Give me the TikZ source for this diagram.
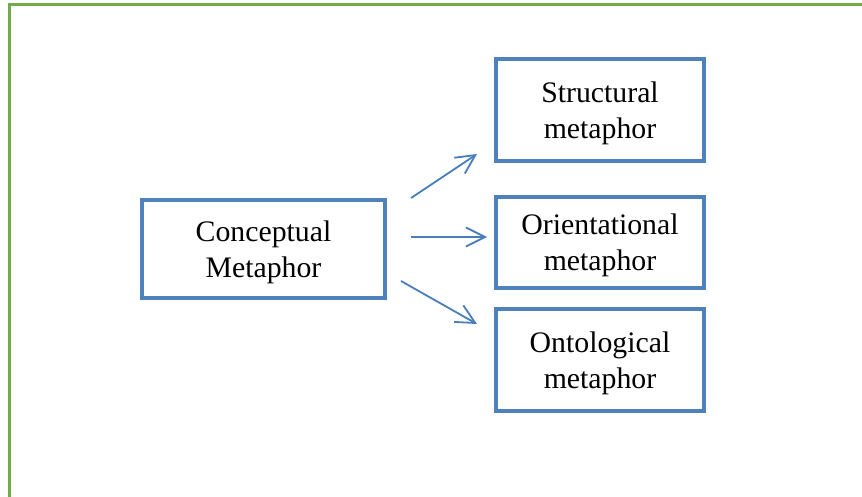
\documentclass[tikz,border=0pt]{standalone}
\usepackage{fontspec}
\setmainfont{Liberation Serif}
\usetikzlibrary{arrows.meta}
\definecolor{framegreen}{RGB}{112,173,71}
\definecolor{boxblue}{RGB}{79,129,189}
\definecolor{arrowblue}{RGB}{74,126,187}
\tikzset{
  mbox/.style={draw=boxblue, line width=4bp, fill=white,
    inner sep=0pt, outer sep=0pt},
  mtext/.style={align=center, inner sep=0pt, yshift=-3bp,
    font=\fontsize{29.9}{36.4}\selectfont},
  marrow/.style={draw=arrowblue, line width=1.8bp,
    -{Straight Barb[length=19bp,width=19bp,line width=1.8bp]}}
}
\begin{document}
\begin{tikzpicture}[x=1bp,y=-1bp]
\useasboundingbox (0,0) rectangle (862,497);
\begin{scope}
\clip (0,0) rectangle (862,497);
\draw[framegreen, line width=3bp] (9,4.5) rectangle (900,540);
\end{scope}
\node[mbox, minimum width=243bp, minimum height=98bp,
  label={[mtext]center:Conceptual\\Metaphor}] (concept) at (263.5,249) {};
\node[mbox, minimum width=208bp, minimum height=102bp,
  label={[mtext]center:Structural\\metaphor}] (struct) at (600,110) {};
\node[mbox, minimum width=208bp, minimum height=91bp,
  label={[mtext]center:Orientational\\metaphor}] (orient) at (600,242.5) {};
\node[mbox, minimum width=208bp, minimum height=102bp,
  label={[mtext]center:Ontological\\metaphor}] (onto) at (600,360) {};
\coordinate (a1s) at (411,198);
\coordinate (a1e) at (477,154);
\coordinate (a2s) at (411,237);
\coordinate (a2e) at (487,237);
\coordinate (a3s) at (401,281);
\coordinate (a3e) at (477,324);
\draw[marrow] (a1s) -- (a1e);
\draw[marrow] (a2s) -- (a2e);
\draw[marrow] (a3s) -- (a3e);
\end{tikzpicture}
\end{document}
